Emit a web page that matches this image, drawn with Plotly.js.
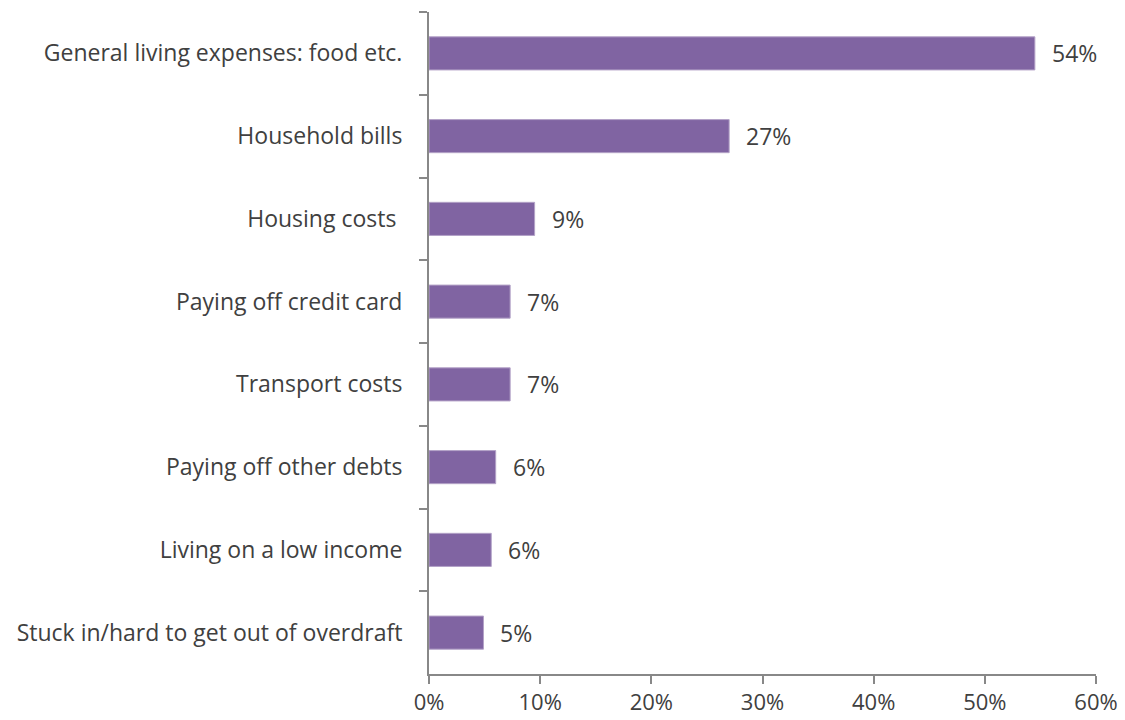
<!DOCTYPE html>
<html><head><meta charset="utf-8">
<script src="https://cdn.plot.ly/plotly-3.0.1.min.js"></script>
<style>body{margin:0;background:#fff}#c{width:1125px;height:720px}</style>
</head><body><div id="c"></div>
<script>
const categories = ["General living expenses: food etc.","Household bills","Housing costs ","Paying off credit card","Transport costs","Paying off other debts","Living on a low income","Stuck in/hard to get out of overdraft"];
const values = [54.5, 27.0, 9.5, 7.3, 7.3, 6.0, 5.6, 4.9];
const labels = ["54%","27%","9%","7%","7%","6%","6%","5%"];
const xTicks = [0,10,20,30,40,50,60];
const xTickText = ["0%","10%","20%","30%","40%","50%","60%"];

const FONT = "Open Sans, sans-serif";
const FS = 23;
const trace = {
  type: "bar", orientation: "h",
  y: categories, x: values,
  marker: {color: "#8064A2", line: {color: "#B3A2C7", width: 1}},
  hoverinfo: "skip"
};
const annotations = categories.map((c, i) => ({
  x: values[i], y: c, xref: "x", yref: "y",
  text: labels[i], showarrow: false, xanchor: "left", xshift: 15,
  font: {family: FONT, size: FS, color: "#404040"}
}));
const layout = {
  width: 1125, height: 720,
  margin: {l: 429, r: 29, t: 12, b: 46},
  paper_bgcolor: "#fff", plot_bgcolor: "#fff",
  showlegend: false, bargap: 0.6,
  font: {family: FONT, size: FS, color: "#404040"},
  xaxis: {range: [0, 60], tickvals: xTicks, ticktext: xTickText, showgrid: false, zeroline: false,
    showline: true, linecolor: "#888", linewidth: 2, ticks: "outside", ticklen: 8, tickcolor: "#888", tickwidth: 2,
    tickfont: {family: FONT, size: 22, color: "#404040"}, fixedrange: true},
  yaxis: {type: "category", autorange: "reversed", showgrid: false, zeroline: false,
    showline: true, linecolor: "#888", linewidth: 2, ticks: "outside", ticklen: 8, tickcolor: "#888", tickwidth: 2,
    tickson: "boundaries", ticklabelstandoff: 20,
    tickfont: {family: FONT, size: FS, color: "#404040"}, fixedrange: true},
  annotations: annotations
};
Plotly.newPlot("c", [trace], layout, {staticPlot: true});
</script></body></html>
